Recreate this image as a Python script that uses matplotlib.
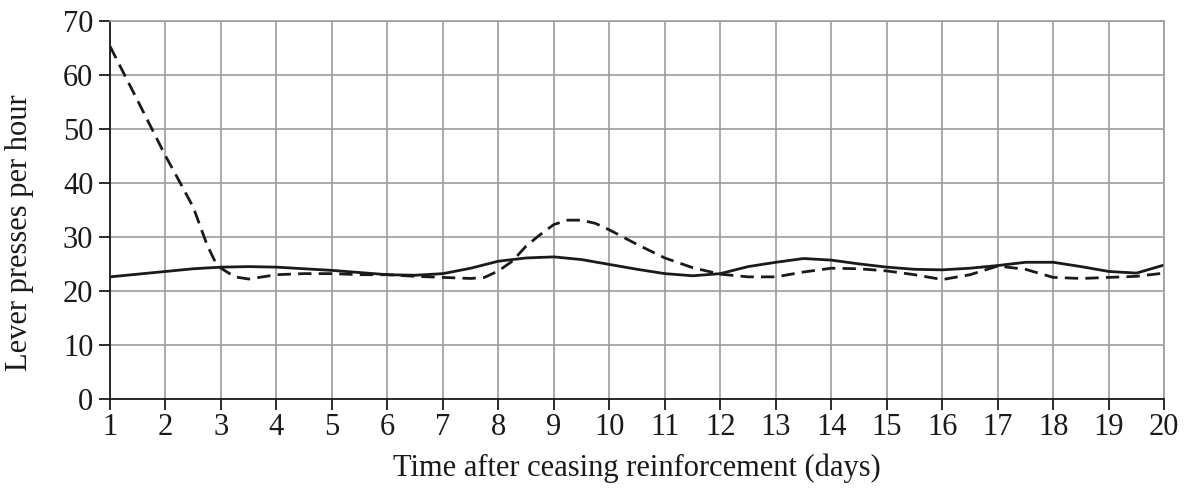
import matplotlib
matplotlib.use("Agg")
import matplotlib.pyplot as plt

# solid curve: days after ceasing reinforcement and lever presses per hour
solid_days = [1, 1.5, 2, 2.5, 3, 3.5, 4, 4.5, 5, 5.5, 6, 6.5, 7, 7.5, 8, 8.5, 9, 9.5, 10,
              10.5, 11, 11.5, 12, 12.5, 13, 13.5, 14, 14.5, 15, 15.5, 16, 16.5, 17, 17.5, 18,
              18.5, 19, 19.5, 20]
solid = [22.6, 23.1, 23.6, 24.1, 24.4, 24.5, 24.4, 24.1, 23.8, 23.4, 23.0, 22.9, 23.2,
         24.2, 25.5, 26.1, 26.3, 25.8, 24.9, 24.0, 23.2, 22.8, 23.2, 24.5, 25.3, 26.0, 25.7,
         25.0, 24.4, 24.0, 23.9, 24.2, 24.7, 25.3, 25.3, 24.5, 23.6, 23.3, 24.8]

# dashed curve
dashed_days = [1, 1.5, 2, 2.25, 2.5, 2.75, 2.9, 3, 3.25, 3.5, 4, 4.5, 5, 5.5, 6, 6.5, 7,
               7.5, 7.75, 8, 8.25, 8.5, 8.75, 9, 9.25, 9.5, 9.75, 10, 10.5, 11, 11.5, 12,
               12.5, 13, 13.5, 14, 14.5, 15, 15.5, 16, 16.5, 17, 17.5, 18, 18.5, 19, 19.5, 20]
dashed = [65.3, 55.2, 45.0, 40.3, 35.5, 28.5, 25.3, 24.2, 22.6, 22.2, 23.0, 23.2, 23.2,
          23.0, 23.0, 22.7, 22.5, 22.3, 22.5, 23.7, 25.5, 28.3, 30.4, 32.3, 33.1, 33.1, 32.5,
          31.3, 28.6, 26.1, 24.3, 23.1, 22.6, 22.6, 23.5, 24.2, 24.1, 23.7, 23.0, 22.1, 23.0,
          24.6, 24.0, 22.5, 22.3, 22.5, 22.7, 23.3]

x_ticks = list(range(1, 21))
y_ticks = list(range(0, 71, 10))

plt.rcParams["font.family"] = ["Liberation Serif", "DejaVu Serif"]

fig = plt.figure(figsize=(11.88, 4.98), dpi=100)
ax = fig.add_axes([0.0926, 0.199, 0.8874, 0.759])

ax.plot(solid_days, solid, color="#1a1a1a", lw=2.0, solid_joinstyle="round")
ax.plot(dashed_days, dashed, color="#1a1a1a", lw=2.0, dashes=(4.8, 2.6))

ax.set_xlim(1, 20)
ax.set_ylim(0, 70)
ax.set_xticks(x_ticks)
ax.set_yticks(y_ticks)
ax.grid(True, color="#9c9c9c", lw=1.2)
ax.set_axisbelow(True)

for s in ["top", "right"]:
    ax.spines[s].set_color("#9c9c9c")
    ax.spines[s].set_linewidth(1.2)
for s in ["left", "bottom"]:
    ax.spines[s].set_color("#1a1a1a")
    ax.spines[s].set_linewidth(1.3)

ax.tick_params(axis="both", direction="out", length=8, width=1.3, colors="#1a1a1a",
               labelsize=22)
ax.tick_params(axis="y", pad=4)
ax.tick_params(axis="x", pad=2)

ax.set_xlabel("Time after ceasing reinforcement (days)", fontsize=22, color="#1a1a1a")
ax.set_ylabel("Lever presses per hour", fontsize=22, color="#1a1a1a")
ax.yaxis.set_label_coords(-0.072, 0.44)
ax.xaxis.set_label_coords(0.5, -0.145)

fig.savefig("out.png", dpi=100)
